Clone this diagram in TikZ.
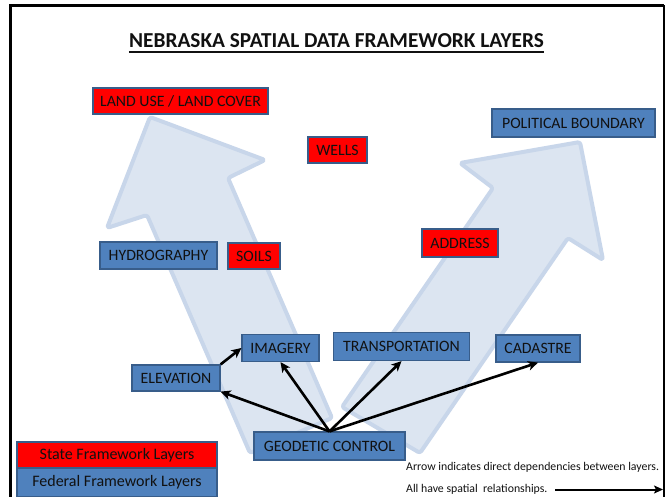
\documentclass[tikz,border=0pt]{standalone}
\usepackage{fontspec}
\setmainfont{Carlito}
\usetikzlibrary{arrows.meta}
\definecolor{fedblue}{HTML}{4F81BD}
\definecolor{stred}{HTML}{FF0000}
\definecolor{boxedge}{HTML}{385D8A}
\definecolor{bigfill}{HTML}{DCE5F1}
\definecolor{bigedge}{HTML}{C8D6EA}
\definecolor{txt}{HTML}{111111}
\tikzset{
  box/.style={draw=boxedge, line width=1.2pt, inner sep=0pt, text=txt,
    font=\fontsize{15.8}{18}\selectfont},
  fed/.style={box, fill=fedblue},
  st/.style={box, fill=stred},
  legbox/.style={font=\fontsize{16}{18}\selectfont},
  dep/.style={line width=2.6pt, -{Stealth[length=10pt,width=9.5pt,inset=2.8pt]}},
  bigarrow/.style={fill=bigfill, draw=bigedge, line width=4pt, line join=round, rounded corners=2.5pt},
  legtext/.style={inner sep=0pt, anchor=base west, font=\fontsize{11.8}{13}\selectfont, text=txt}
}
\begin{document}
\begin{tikzpicture}[x=1pt,y=-1pt]
\useasboundingbox (0,0) rectangle (667,497);
\fill[white] (0,0) rectangle (667,497);

% big background arrows
\draw[bigarrow] (250,453) -- (147,215) -- (107,228) -- (150,117) -- (265,160) -- (228,178) -- (332,418) -- cycle;
\draw[bigarrow] (342,407) -- (493,188) -- (460,163) -- (580,142) -- (603,260) -- (568,238) -- (420,453) -- cycle;

% frame
\draw[line width=2.5pt] (10.5,500) -- (10.5,5.5) -- (664,5.5);
\draw[line width=1.8pt] (664,5.5) -- (664,500);

% title
\node[inner sep=0pt, anchor=base, text=txt, font=\fontsize{21.3}{24}\selectfont\bfseries] (title) at (336.5,47.7)
  {NEBRASKA SPATIAL DATA FRAMEWORK LAYERS};
\draw[line width=1.7pt, txt] ([yshift=-4.5pt]title.base west) -- ([yshift=-4.5pt]title.base east);

% layer boxes
\node[st,  minimum width=175pt, minimum height=26pt] (landuse) at (180.5,101) {LAND USE / LAND COVER};
\node[st,  minimum width=59pt,  minimum height=26pt] (wells) at (337.5,150) {WELLS};
\node[fed, minimum width=163pt, minimum height=28pt] (polb) at (573.5,123) {POLITICAL BOUNDARY};
\node[fed, minimum width=117pt, minimum height=27pt] (hydro) at (158.5,255.5) {HYDROGRAPHY};
\node[st,  minimum width=52pt,  minimum height=26pt] (soils) at (254,256) {SOILS};
\node[st,  minimum width=76pt,  minimum height=28pt] (address) at (460,243) {ADDRESS};
\node[fed, minimum width=77pt,  minimum height=27pt] (imagery) at (280.5,348) {IMAGERY};
\node[fed, minimum width=136pt, minimum height=28pt] (transp) at (401.5,346.5) {TRANSPORTATION};
\node[fed, minimum width=84pt,  minimum height=27pt] (cadastre) at (538,348.5) {CADASTRE};
\node[fed, minimum width=88pt,  minimum height=26pt] (elev) at (176,378) {ELEVATION};
\node[fed, minimum width=151pt, minimum height=28pt] (geo) at (329.5,446) {GEODETIC CONTROL};

% dependency arrows
\draw[dep] (geo.north) -- (elev.south east);
\draw[dep] (geo.north) -- (imagery.south);
\draw[dep] (geo.north) -- (transp.south);
\draw[dep] (geo.north) -- (cadastre.south);
\draw[dep] (elev.north east) -- (imagery.west);

% legend boxes
\node[st,  legbox, minimum width=200pt, minimum height=26pt] (legstate) at (117,455) {State Framework Layers};
\node[fed, legbox, minimum width=200pt, minimum height=29pt] (legfed) at (117,482.5) {Federal Framework Layers};

% legend text
\node[legtext] (legone) at (406,470) {Arrow indicates direct dependencies between layers.};
\node[legtext] (legtwo) at (406,492) {All have spatial~ relationships.};
\coordinate (la) at (555,489.5);
\coordinate (lb) at (663,489.5);
\draw[line width=2pt, -{Stealth[length=9pt,width=8pt,inset=2pt]}] (la) -- (lb);
\end{tikzpicture}
\end{document}
